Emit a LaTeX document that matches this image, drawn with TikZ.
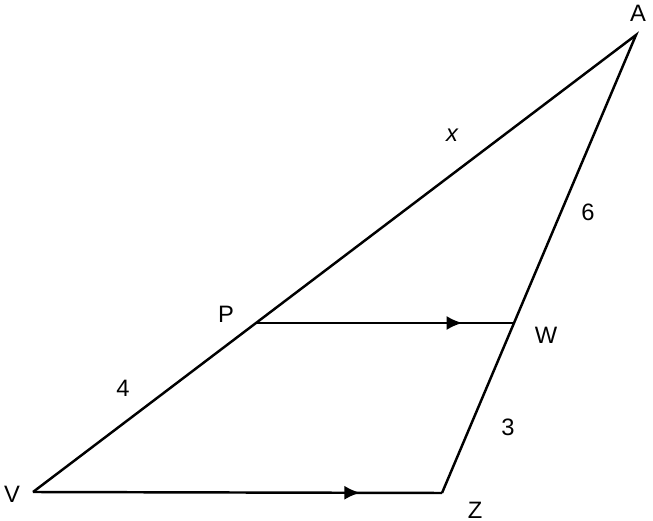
\documentclass[tikz,border=0pt]{standalone}
\usepackage{fontspec}
\setmainfont{Liberation Sans}
\usetikzlibrary{decorations.markings,arrows.meta}
\begin{document}
\begin{tikzpicture}[
        x=0.02cm, y=0.02cm,
        side/.style={line width=1.4pt, line join=miter},
        midarrow/.style={side, postaction={decorate}, decoration={markings,
            mark=at position #1 with {\arrow{Latex[length=9pt,width=8pt]}}}},
        lbl/.style={font=\fontsize{13.5}{16}\selectfont, inner sep=0pt},
        vlbl/.style={font=\fontsize{13.5}{16}\selectfont\itshape, inner sep=0pt}
    ]
    \useasboundingbox (0,0) rectangle (653,521);

    \coordinate (A) at (636,486);
    \coordinate (V) at (33,29);
    \coordinate (Z) at (442,28);
    \coordinate (P) at (256,198);
    \coordinate (W) at (514,198);

    \draw[side] (V) -- (A) -- (Z);
    \draw[midarrow=0.8] (P) -- (W);
    \draw[midarrow=0.8] (V) -- (Z);

    \node[lbl] (la) at (638,508) {A};
    \node[lbl] (lv) at (12,27) {V};
    \node[lbl] (lz) at (475,11) {Z};
    \node[lbl] (lp) at (226,207) {P};
    \node[lbl] (lw) at (546,186) {W};
    \node[vlbl] (lx) at (452,386) {x};
    \node[lbl] (l6) at (588,309) {6};
    \node[lbl] (l4) at (123,133) {4};
    \node[lbl] (l3) at (508,94) {3};
\end{tikzpicture}
\end{document}
